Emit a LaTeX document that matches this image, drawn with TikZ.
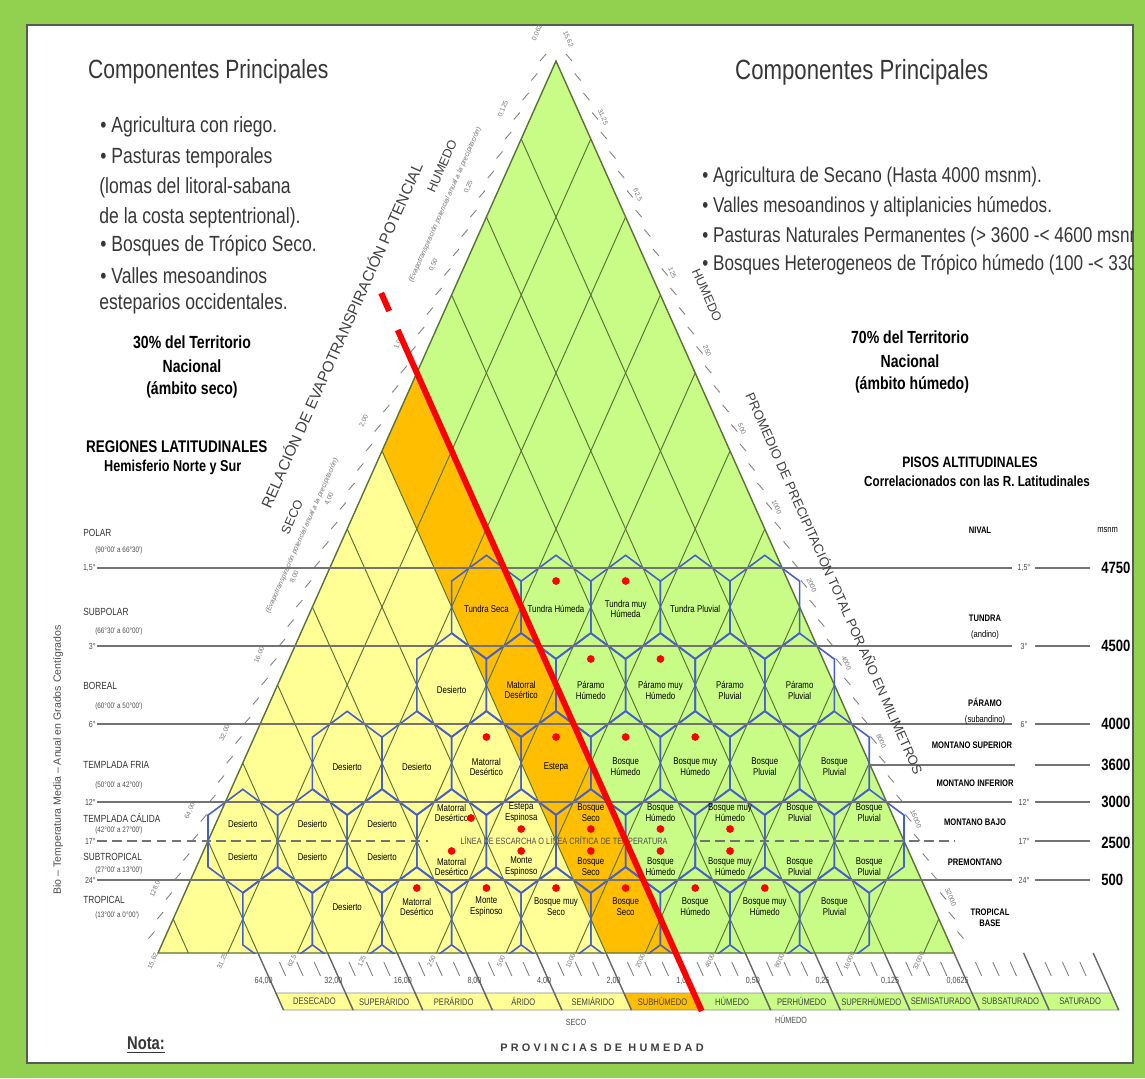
\documentclass[tikz,border=0pt]{standalone}
\usepackage{fontspec}
\setmainfont{Liberation Sans}[FakeStretch=0.8]
\newfontfamily\plainsans{Liberation Sans}
\newfontfamily\spacedsans{Liberation Sans}[LetterSpace=30]
\definecolor{framegreen}{RGB}{146,208,80}
\definecolor{zonegreen}{RGB}{200,252,135}
\definecolor{zoneyellow}{RGB}{255,255,150}
\definecolor{zoneorange}{RGB}{255,190,0}
\definecolor{latticecol}{RGB}{90,115,55}
\definecolor{hexblue}{RGB}{70,95,205}
\definecolor{inkgray}{RGB}{55,55,55}
\tikzset{
	lattice/.style={draw=latticecol, line width=0.55pt},
	hexline/.style={draw=hexblue, line width=0.9pt},
	bioline/.style={draw=black!55, line width=0.8pt},
	provline/.style={draw=black!60, line width=0.8pt},
	tickline/.style={draw=black!50, line width=0.5pt},
	redline/.style={draw=red, line width=3.4pt},
	reddot/.style={fill=red},
	hexlbl/.style={font=\fontsize{5.6}{6.2}\selectfont, align=center, inner sep=0pt},
	edgelbl/.style={font=\plainsans\fontsize{3.8}{4}\selectfont, text=black!55, inner sep=0pt},
	numlbl/.style={font=\fontsize{5.1}{6}\selectfont, text=black!70, inner sep=0pt},
	barlbl/.style={font=\fontsize{5.4}{6}\selectfont, text=black!75, inner sep=0pt},
	latname/.style={font=\fontsize{5.9}{7}\selectfont, text=black!80, anchor=west, inner sep=0pt},
	latsub/.style={font=\fontsize{4.5}{5}\selectfont, text=black!70, anchor=west, inner sep=0pt},
	altzone/.style={font=\bfseries\fontsize{5.4}{6.4}\selectfont, align=center, inner sep=0pt},
	altsub/.style={font=\fontsize{5.4}{6}\selectfont, inner sep=0pt},
	altnum/.style={font=\bfseries\fontsize{9.3}{11}\selectfont, anchor=west, inner sep=0pt},
	templbl/.style={font=\fontsize{5}{6}\selectfont, text=black!70, inner sep=0pt},
	bullet/.style={font=\fontsize{12.5}{15}\selectfont, text=inkgray, anchor=west, inner sep=0pt},
	share/.style={font=\bfseries\fontsize{10}{12}\selectfont, inner sep=0pt},
	axistitle/.style={font=\plainsans\fontsize{8.7}{10}\selectfont, text=black!75, inner sep=0pt}
}
\begin{document}
\begin{tikzpicture}[x=0.02cm, y=-0.02cm]
	\useasboundingbox (0,0) rectangle (1145,1078);
	\fill [framegreen] (0,0) rectangle (1145,1078);
	\draw [fill=white, draw=black!65, line width=0.8pt] (27,25) rectangle (1133,1063);
	\begin{scope}
	\clip (27,25) rectangle (1133,1063);
	% triangle and zones
	\coordinate (apex) at (556,61);
	\coordinate (lcorner) at (158,953);
	\coordinate (rcorner) at (954,953);
	\coordinate (redL) at (416.8,372.8);
	\coordinate (orL) at (382,450.8);
	\coordinate (orB) at (606.2,953);
	\coordinate (redB) at (675.8,953);
	\fill [zonegreen] (apex) -- (lcorner) -- (rcorner) -- cycle;
	\fill [zoneyellow] (orL) -- (lcorner) -- (orB) -- cycle;
	\fill [zoneorange] (redL) -- (orL) -- (orB) -- (redB) -- cycle;
	\foreach \k in {1,...,11} {
		\draw [lattice] ({556+34.8*\k},{61+78*\k}) -- ({158+69.6*\k},953);
		\draw [lattice] ({556-34.8*\k},{61+78*\k}) -- ({954-69.6*\k},953);
	}
	\draw [lattice, line width=0.8pt] (apex) -- (lcorner) -- (rcorner) -- cycle;
	% edge ticks
	\foreach \t in {0,0.25,...,11.25} {
		\draw [tickline] ({556-34.8*\t-16},{61+78*\t}) -- ({556-34.8*\t-10},{61+78*\t-7});
		\draw [tickline] ({556+34.8*\t+16},{61+78*\t}) -- ({556+34.8*\t+10},{61+78*\t-7});
	}
	\foreach \j/\v in {0/{0,0625},1/{0,125},2/{0,25},3/{0,50},4/{1,00},5/{2,00},6/{4,00},7/{8,00},8/{16,00},9/{32,00},10/{64,00},11/{128,0}}
		\node [edgelbl, rotate=66] (petL\j) at ({556-34.8*\j-18},{61+78*\j-30}) {\v};
	\foreach \k/\v in {0/{15,62},1/{31,25},2/{62,5},3/125,4/250,5/500,6/1000,7/2000,8/4000,9/8000,10/16000,11/32000} {
		\node [edgelbl, rotate=-66] (pptR\k) at ({556+34.8*\k+12},{61+78*\k-22}) {\v};
		\node [edgelbl, rotate=66] (pptB\k) at ({158+69.6*\k-5},961) {\v};
	}
	% hexagons
	\begin{scope}
	\clip (0,0) rectangle (1145,953);
	\foreach \n/\mlo/\cnt in {7/-2/4, 8/-3/5, 9/-6/7, 10/-9/9, 11/-8/8}
		\foreach \i in {0,...,\cnt}
			\draw [hexline, shift={({556+34.8*(\mlo+2*\i)},{61+78*\n})}] (0,-51.7) -- (34.8,-25.85) -- (34.8,25.85) -- (0,51.7) -- (-34.8,25.85) -- (-34.8,-25.85) -- cycle;
	\end{scope}
	% biotemperature lines
	\foreach \yy/\lt/\alt in {568/{1,5°}/4750, 646/{3°}/4500, 724/{6°}/4000, 802/{12°}/3000, 880/{24°}/500} {
		\draw [bioline] (97,\yy) -- (1012,\yy);
		\node [templbl, anchor=east] (tl\alt) at (96,\yy) {\lt};
		\node [templbl] (tr\alt) at (1024,\yy) {\lt};
		\draw [bioline] (1035,\yy) -- (1090,\yy);
		\node [altnum] (alt\alt) at (1101,\yy) {\alt};
	}
	\draw [bioline, dash pattern=on 5.5pt off 3pt] (97,841) -- (428,841);
	\draw [bioline, dash pattern=on 5.5pt off 3pt] (700,841) -- (955,841);
	\node [templbl, anchor=east] (tl2500) at (96,841) {17°};
	\node [templbl] (tr2500) at (1024,841) {17°};
	\draw [bioline] (1035,841) -- (1090,841);
	\node [altnum] (alt2500) at (1101,843) {2500};
	\draw [bioline] (868,765) -- (1015,765);
	\draw [bioline] (1035,765) -- (1090,765);
	\node [altnum] (alt3600) at (1101,765) {3600};
	\node [templbl, font=\fontsize{5.2}{6}\selectfont] (escarcha) at (564,841) {LÍNEA DE ESCARCHA O LÍNEA CRÍTICA DE TEMPERATURA};
	% life zones
	\foreach \m/\yy/\t [count=\i] in {
		-2/609/{Tundra Seca}, 0/609/{Tundra Húmeda}, 2/609/{Tundra muy\\Húmeda}, 4/609/{Tundra Pluvial},
		-3/690/{Desierto}, -1/690/{Matorral\\Desértico}, 1/690/{Páramo\\Húmedo}, 3/690/{Páramo muy\\Húmedo}, 5/690/{Páramo\\Pluvial}, 7/690/{Páramo\\Pluvial},
		-6/767/{Desierto}, -4/767/{Desierto}, -2/767/{Matorral\\Desértico}, 0/767/{Estepa}, 2/767/{Bosque\\Húmedo}, 4/767/{Bosque muy\\Húmedo}, 6/767/{Bosque\\Pluvial}, 8/767/{Bosque\\Pluvial},
		-9/824/{Desierto}, -7/824/{Desierto}, -5/824/{Desierto}, -3/813/{Matorral\\Desértico}, -1/813/{Estepa\\Espinosa}, 1/813/{Bosque\\Seco}, 3/813/{Bosque\\Húmedo}, 5/813/{Bosque muy\\Húmedo}, 7/813/{Bosque\\Pluvial}, 9/813/{Bosque\\Pluvial},
		-9/857/{Desierto}, -7/857/{Desierto}, -5/857/{Desierto}, -3/867/{Matorral\\Desértico}, -1/867/{Monte\\Espinoso}, 1/867/{Bosque\\Seco}, 3/867/{Bosque\\Húmedo}, 5/867/{Bosque muy\\Húmedo}, 7/867/{Bosque\\Pluvial}, 9/867/{Bosque\\Pluvial},
		-6/907/{Desierto}, -4/907/{Matorral\\Desértico}, -2/907/{Monte\\Espinoso}, 0/907/{Bosque muy\\Seco}, 2/907/{Bosque\\Seco}, 4/907/{Bosque\\Húmedo}, 6/907/{Bosque muy\\Húmedo}, 8/907/{Bosque\\Pluvial}}
		\node [hexlbl] (zone\i) at ({556+34.8*\m},\yy) {\t};
	\foreach \m/\yy in {0/581, 2/581, 1/659, 3/659, -2/737, 0/737, 2/737, 4/737, -1/829, 1/829, 3/829, 5/829, -3/851, -1/851, 1/851, 3/851, 5/851, -4/888, -2/888, 0/888, 2/888, 4/888, 6/888}
		\fill [reddot] ({556+34.8*\m},\yy) circle (2.2pt);
	\fill [reddot] (471,818) circle (2.2pt);
	% humidity provinces
	\foreach \j in {-1,...,10}
		\foreach \q in {1,2,3}
			\draw [tickline] ({958-69.6*\j+17.4*\q},962) -- ({964.3-69.6*\j+17.4*\q},976);
	\foreach \j/\name/\col in {10/DESECADO/zoneyellow, 9/SUPERÁRIDO/zoneyellow, 8/PERÁRIDO/zoneyellow, 7/ÁRIDO/zoneyellow, 6/SEMIÁRIDO/zoneyellow, 5/SUBHÚMEDO/zoneorange, 4/HÚMEDO/zonegreen, 3/PERHÚMEDO/zonegreen, 2/SUPERHÚMEDO/zonegreen, 1/SEMISATURADO/zonegreen, 0/SUBSATURADO/zonegreen, -1/SATURADO/zonegreen} {
		\fill [fill=\col, draw=black!45, line width=0.5pt] ({971.9-69.6*\j},993) -- ({1041.5-69.6*\j},993) -- ({1049.1-69.6*\j},1010) -- ({979.5-69.6*\j},1010) -- cycle;
		\node [barlbl] (prov\j) at ({1010.5-69.6*\j},1001.5) {\name};
	}
	\foreach \j in {-2,...,10}
		\draw [provline] ({954-69.6*\j},953) -- ({979.5-69.6*\j},1010);
	\foreach \j/\v in {10/{64,00}, 9/{32,00}, 8/{16,00}, 7/{8,00}, 6/{4,00}, 5/{2,00}, 4/{1,00}, 3/{0,50}, 2/{0,25}, 1/{0,125}, 0/{0,0625}}
		\node [numlbl, anchor=east] (pet\j) at ({969-69.6*\j},981) {\v};
	\node [numlbl] (seco) at (576,1022) {SECO};
	\node [numlbl] (humedo) at (791,1020) {HÚMEDO};
	\node [font=\spacedsans\bfseries\fontsize{6.2}{7}\selectfont, text=black!75] (provincias) at (602,1048) {PROVINCIAS DE HUMEDAD};
	\node [font=\bfseries\fontsize{10.5}{12}\selectfont, text=inkgray] (nota) at (146,1045) {\underline{Nota:}};
	% red limit
	\coordinate (redtop) at (397.7,330);
	\coordinate (redbot) at (701.7,1011);
	\draw [redline] (381.2,293) -- (389.2,311);
	\draw [redline] (redtop) -- (redbot);
	% axis titles
	\node [axistitle, rotate=66] (petaxis) at (341,335) {RELACIÓN DE EVAPOTRANSPIRACIÓN POTENCIAL};
	\node [axistitle, font=\plainsans\fontsize{7.5}{9}\selectfont, rotate=-66] (pptaxis) at (835,583) {PROMEDIO DE PRECIPITACIÓN TOTAL POR AÑO EN MILIMETROS};
	\node [axistitle, font=\plainsans\fontsize{7.2}{9}\selectfont, rotate=66] (humL) at (442,166) {HUMEDO};
	\node [axistitle, font=\plainsans\fontsize{7.2}{9}\selectfont, rotate=66] (secoL) at (292,517) {SECO};
	\node [axistitle, font=\plainsans\fontsize{7.2}{9}\selectfont, rotate=-66] (humR) at (707,295) {HUMEDO};
	\node [edgelbl, font=\plainsans\itshape\fontsize{4}{5}\selectfont, rotate=66] (noteA) at (445,205) {(Evapotranspiración potencial anual a la precipitación)};
	\node [edgelbl, font=\plainsans\itshape\fontsize{4}{5}\selectfont, rotate=66] (noteB) at (302,536) {(Evapotranspiración potencial anual a la precipitación)};
	\node [font=\plainsans\fontsize{6}{7}\selectfont, text=black!70, rotate=90] (biotemp) at (58,760) {Bio – Temperatura Media – Anual en Grados Centígrados};
	% left texts
	\node [font=\fontsize{15}{18}\selectfont, text=inkgray, anchor=west] (titleL) at (82,72) {Componentes Principales};
	\node [bullet] (lb1) at (100,127) {• Agricultura con riego.};
	\node [bullet] (lb2) at (100,158) {• Pasturas temporales};
	\node [bullet] (lb3) at (99,188) {(lomas del litoral-sabana};
	\node [bullet] (lb4) at (99,218) {de la costa septentrional).};
	\node [bullet] (lb5) at (100,246) {• Bosques de Trópico Seco.};
	\node [bullet] (lb6) at (100,276) {• Valles mesoandinos};
	\node [bullet] (lb7) at (99,304) {esteparios occidentales.};
	\node [share] (sec1) at (192,342) {30\% del Territorio};
	\node [share] (sec2) at (192,366) {Nacional};
	\node [share] (sec3) at (192,390) {(ámbito seco)};
	\node [font=\bfseries\fontsize{9.6}{11}\selectfont, anchor=west] (reglat) at (80,447) {REGIONES LATITUDINALES};
	\node [font=\bfseries\fontsize{9}{11}\selectfont, anchor=west] (hemis) at (98,467) {Hemisferio Norte y Sur};
	\foreach \ya/\yb/\name/\lat [count=\i] in {533/550/POLAR/{(90°00' a 66°30')}, 612/631/SUBPOLAR/{(66°30' a 60°00')}, 686/706/BOREAL/{(60°00' a 50°00')}, 765/785/TEMPLADA FRIA/{(50°00' a 42°00')}, 818/830/TEMPLADA CÁLIDA/{(42°00' a 27°00')}, 857/870/SUBTROPICAL/{(27°00' a 13°00')}, 900/915/TROPICAL/{(13°00' a 0°00')}} {
		\node [latname] (reg\i) at (83,\ya) {\name};
		\node [latsub] (regsub\i) at (95,\yb) {\lat};
	}
	% right texts
	\node [font=\fontsize{15.8}{18}\selectfont, text=inkgray, anchor=west] (titleR) at (729,72) {Componentes Principales};
	\node [bullet, font=\fontsize{12.2}{14}\selectfont] (rb1) at (702,177) {• Agricultura de Secano (Hasta 4000 msnm).};
	\node [bullet, font=\fontsize{12.2}{14}\selectfont] (rb2) at (702,207) {• Valles mesoandinos y altiplanicies húmedos.};
	\node [bullet, font=\fontsize{12.2}{14}\selectfont] (rb3) at (702,237) {• Pasturas Naturales Permanentes (> 3600 -< 4600 msnm).};
	\node [bullet, font=\fontsize{12.2}{14}\selectfont] (rb4) at (702,265) {• Bosques Heterogeneos de Trópico húmedo (100 -< 3300 msnm).};
	\node [share] (hum1) at (910,337) {70\% del Territorio};
	\node [share] (hum2) at (910,361) {Nacional};
	\node [share] (hum3) at (912,385) {(ámbito húmedo)};
	\node [font=\bfseries\fontsize{8.6}{10}\selectfont] (pisos) at (970,462) {PISOS ALTITUDINALES};
	\node [font=\bfseries\fontsize{8.3}{10}\selectfont] (correl) at (977,481) {Correlacionados con las R. Latitudinales};
	\node [altzone] (nival) at (980,530) {NIVAL};
	\node [altsub, anchor=west] (msnm) at (1097,530) {msnm};
	\node [altzone] (tundra) at (985,618) {TUNDRA};
	\node [altsub] (andino) at (985,635) {(andino)};
	\node [altzone] (paramo) at (985,702) {PÁRAMO};
	\node [altsub] (subandino) at (985,720) {(subandino)};
	\node [altzone] (msup) at (972,745) {MONTANO SUPERIOR};
	\node [altzone] (minf) at (975,783) {MONTANO INFERIOR};
	\node [altzone] (mbajo) at (975,822) {MONTANO BAJO};
	\node [altzone] (premont) at (975,862) {PREMONTANO};
	\node [altzone] (tbase) at (990,918) {TROPICAL\\BASE};
	\end{scope}
\end{tikzpicture}
\end{document}
